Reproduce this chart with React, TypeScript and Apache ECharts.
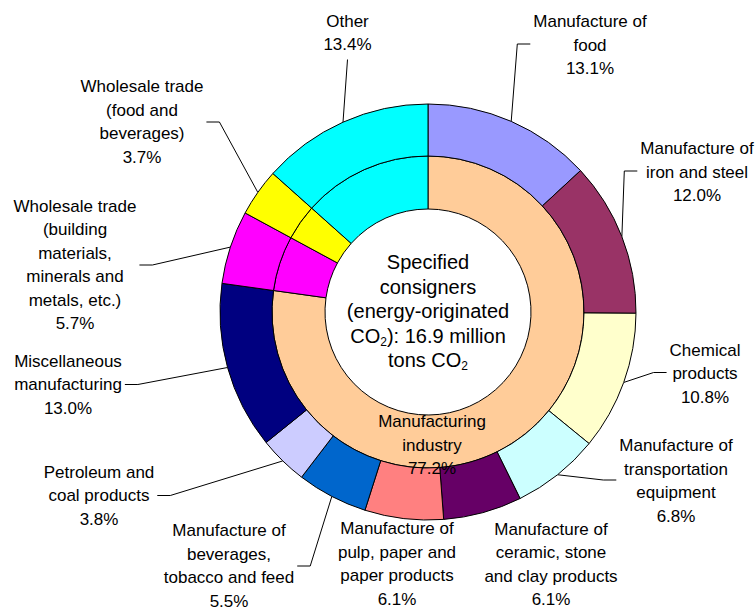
import React, { useEffect, useRef } from 'react';
import * as echarts from 'echarts';

// Outer ring: sectors (clockwise from 12 o'clock)
const categories = [
  'Manufacture of\nfood',
  'Manufacture of\niron and steel',
  'Chemical\nproducts',
  'Manufacture of\ntransportation\nequipment',
  'Manufacture of\nceramic, stone\nand clay products',
  'Manufacture of\npulp, paper and\npaper products',
  'Manufacture of\nbeverages,\ntobacco and feed',
  'Petroleum and\ncoal products',
  'Miscellaneous\nmanufacturing',
  'Wholesale trade\n(building\nmaterials,\nminerals and\nmetals, etc.)',
  'Wholesale trade\n(food and\nbeverages)',
  'Other',
];
const shares = [13.1, 12.0, 10.8, 6.8, 6.1, 6.1, 5.5, 3.8, 13.0, 5.7, 3.7, 13.4];
const colors = [
  '#9999FF', '#993366', '#FFFFCC', '#CCFFFF', '#660066', '#FF8080',
  '#0066CC', '#CCCCFF', '#000080', '#FF00FF', '#FFFF00', '#00FFFF',
];

// Inner ring: industry groups
const groupNames = [
  'Manufacturing\nindustry',
  'Wholesale trade (building materials, minerals and metals, etc.)',
  'Wholesale trade (food and beverages)',
  'Other',
];
const groupShares = [77.2, 5.7, 3.7, 13.4];
const groupColors = ['#FFCC99', '#FF00FF', '#FFFF00', '#00FFFF'];

// Layout: label block centres and where the leader line attaches
const labelAnchors: [number, number, string][] = [
  [590, 45, 'left'],
  [697, 172, 'left'],
  [705, 373.5, 'left'],
  [676, 481, 'left'],
  [551, 564.5, 'none'],
  [397, 564, 'none'],
  [229, 566, 'right'],
  [99, 495.5, 'right'],
  [68, 384.5, 'right'],
  [75, 265, 'right'],
  [142, 122, 'right'],
  [347.5, 33, 'bottom'],
];
const groupLabelAnchor: [number, number] = [432, 445];

const CX = 428;
const CY = 312;
const FONT = "'Liberation Sans', Arial, Helvetica, sans-serif";

export default function App() {
  const ref = useRef<HTMLDivElement>(null);

  useEffect(() => {
    if (!ref.current) return;
    const chart = echarts.init(ref.current, null, { renderer: 'svg' });

    const outerData = categories.map((name, i) => ({
      name,
      value: shares[i],
      itemStyle: { color: colors[i] },
      labelLine: { show: labelAnchors[i][2] !== 'none' },
    }));
    const innerData = groupNames.map((name, i) => ({
      name,
      value: groupShares[i],
      itemStyle: { color: groupColors[i] },
      label: { show: i === 0 },
    }));

    const option: any = {
      animation: false,
      backgroundColor: '#ffffff',
      series: [
        {
          type: 'pie',
          silent: true,
          center: [CX, CY],
          radius: [103, 156],
          startAngle: 90,
          clockwise: true,
          avoidLabelOverlap: false,
          data: innerData,
          itemStyle: { borderColor: '#000', borderWidth: 1 },
          label: {
            position: 'inside',
            formatter: (p: any) => `${p.name}\n${Number(p.value).toFixed(1)}%`,
            fontFamily: FONT,
            fontSize: 17,
            lineHeight: 23.5,
            color: '#000',
            overflow: 'none',
          },
          labelLine: { show: false },
          labelLayout: () => ({
            x: groupLabelAnchor[0],
            y: groupLabelAnchor[1],
            align: 'center',
            verticalAlign: 'middle',
          }),
          emphasis: { disabled: true },
        },
        {
          type: 'pie',
          silent: true,
          center: [CX, CY],
          radius: [156, 208],
          startAngle: 90,
          clockwise: true,
          avoidLabelOverlap: false,
          data: outerData,
          itemStyle: { borderColor: '#000', borderWidth: 1 },
          label: {
            show: true,
            position: 'outside',
            alignTo: 'none',
            overflow: 'none',
            formatter: (p: any) => `${p.name}\n${Number(p.value).toFixed(1)}%`,
            fontFamily: FONT,
            fontSize: 17,
            lineHeight: 23.5,
            color: '#000',
          },
          labelLine: {
            show: true,
            length: 10,
            length2: 10,
            lineStyle: { color: '#000', width: 1 },
          },
          labelLayout: (p: any) => {
            const [x, y, side] = labelAnchors[p.dataIndex];
            const out: any = { x, y, align: 'center', verticalAlign: 'middle' };
            const pts = p.labelLinePoints;
            if (pts && side !== 'none') {
              const w = p.labelRect.width;
              const h = p.labelRect.height;
              const start = pts[0];
              if (side === 'left') {
                const ax = x - w / 2 - 3;
                out.labelLinePoints = [start, [ax - 13, y - 1], [ax, y - 1]];
              } else if (side === 'right') {
                const ax = x + w / 2 + 3;
                out.labelLinePoints = [start, [ax + 13, y], [ax, y]];
              } else {
                const ay = y + h / 2 + 3;
                out.labelLinePoints = [start, [x, ay], [x, ay]];
              }
            }
            return out;
          },
          emphasis: { disabled: true },
        },
      ],
      graphic: [
        {
          type: 'text',
          x: CX,
          y: CY - 1,
          silent: true,
          style: {
            text:
              'Specified\nconsigners\n(energy-originated\nCO{s|2}): 16.9 million\ntons CO{s|2}',
            fontFamily: FONT,
            fontSize: 20,
            lineHeight: 24.5,
            fill: '#000',
            align: 'center',
            verticalAlign: 'middle',
            rich: {
              s: {
                fontFamily: FONT,
                fontSize: 12,
                lineHeight: 14,
                verticalAlign: 'bottom',
                fill: '#000',
              },
            },
          },
        },
      ],
    };

    chart.setOption(option);
    return () => chart.dispose();
  }, []);

  return (
    <div
      ref={ref}
      style={{ position: 'fixed', left: 0, top: 0, width: 756, height: 610, background: '#fff' }}
    />
  );
}
